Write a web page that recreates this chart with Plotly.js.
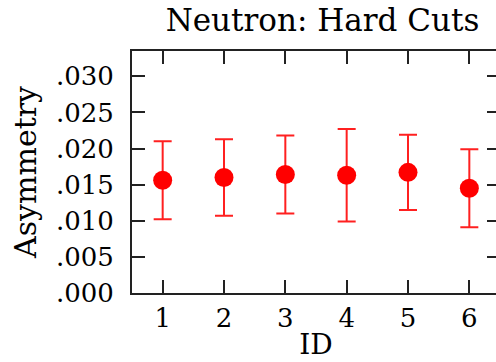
<!DOCTYPE html>
<html>
<head>
<meta charset="utf-8">
<script src="https://cdn.plot.ly/plotly-3.0.1.min.js"></script>
<style>
  html, body { margin: 0; padding: 0; overflow: hidden; background: #fff; }
  #chart { width: 500px; height: 362px; }
</style>
</head>
<body>
<div id="chart"></div>
<script>
// Measured asymmetry per run ID, with symmetric statistical errors
const ids = [1, 2, 3, 4, 5, 6];
const asymmetry = [0.0156, 0.0160, 0.0164, 0.0163, 0.0167, 0.0145];
const errors = [0.0054, 0.0053, 0.0054, 0.0064, 0.0052, 0.0054];

const yTickVals = [0, 0.005, 0.010, 0.015, 0.020, 0.025, 0.030];
const yTickText = ['.000', '.005', '.010', '.015', '.020', '.025', '.030'];

const serif = 'DejaVu Serif, Liberation Serif, serif';

const trace = {
  x: ids,
  y: asymmetry,
  type: 'scatter',
  mode: 'markers',
  marker: { color: '#ff0000', size: 19 },
  error_y: {
    type: 'data',
    array: errors,
    visible: true,
    color: '#ff2020',
    thickness: 2,
    width: 9
  },
  hoverinfo: 'skip'
};

const axisCommon = {
  showgrid: false,
  zeroline: false,
  showline: true,
  linecolor: '#222',
  linewidth: 2,
  mirror: 'allticks',
  ticks: 'inside',
  ticklen: 13,
  tickwidth: 2,
  tickcolor: '#222',
  tickfont: { family: serif, size: 26, color: '#000' }
};

const layout = {
  width: 500,
  height: 362,
  margin: { l: 132, r: 0, t: 51, b: 69 },
  paper_bgcolor: '#fff',
  plot_bgcolor: '#fff',
  showlegend: false,
  title: {
    text: 'Neutron: Hard Cuts',
    font: { family: serif, size: 31, color: '#000' },
    x: 0.645,
    xanchor: 'center',
    y: 0.945,
    yanchor: 'middle'
  },
  xaxis: Object.assign({}, axisCommon, {
    range: [0.5, 6.5],
    tickvals: ids,
    ticktext: ids.map(String),
    ticklabelstandoff: 1,
    title: { text: 'ID', font: { family: serif, size: 28, color: '#000' }, standoff: 2 }
  }),
  yaxis: Object.assign({}, axisCommon, {
    range: [0, 0.0335],
    tickvals: yTickVals,
    ticktext: yTickText,
    ticklabelstandoff: 11,
    title: { text: 'Asymmetry', font: { family: serif, size: 30, color: '#000' }, standoff: 10 }
  })
};

Plotly.newPlot('chart', [trace], layout, { staticPlot: true, displayModeBar: false });
</script>
</body>
</html>
